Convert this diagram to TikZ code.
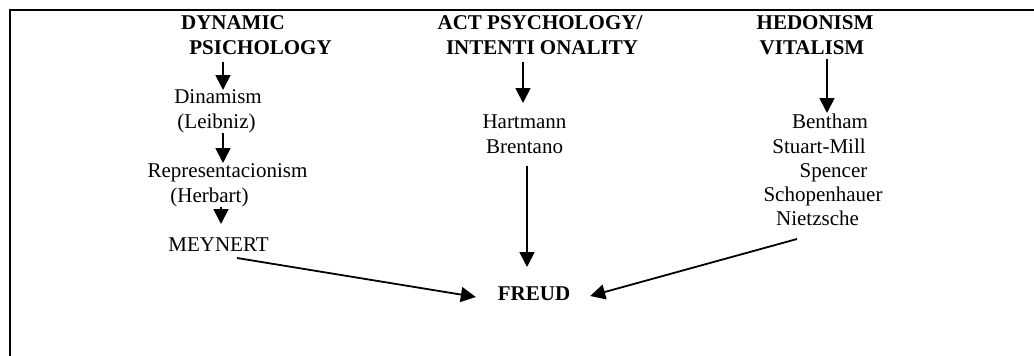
\documentclass[tikz,border=0pt]{standalone}
\usepackage{fontspec}
\setmainfont{Liberation Serif}
\usetikzlibrary{arrows.meta}

\tikzstyle{textdecorate}=[anchor=base,inner sep=0pt,outer sep=0pt,text height=14pt,text depth=4pt,font=\fontsize{21}{24}\selectfont]
\tikzstyle{headdecorate}=[textdecorate,font=\fontsize{21}{24}\selectfont\bfseries]
\tikzstyle{arrowdecorate}=[-{Triangle[length=15pt,width=15pt]},line width=1.8pt]
\tikzstyle{framedecorate}=[line width=2pt]

\begin{document}
\begin{tikzpicture}[x=1pt,y=-1pt]
      \useasboundingbox (0,0) rectangle (1034,356);
      \draw[framedecorate] (10,356) -- (10,10) -- (1034,10);

      %% headings
      \foreach \nodename/\x/\y/\txt in {dynA/233/29/DYNAMIC, dynB/260.5/54/PSICHOLOGY,
        actA/540/30/{ACT PSYCHOLOGY/}, actB/542/54/{INTENTI ONALITY},
        hedA/815/30/HEDONISM, hedB/812/54/VITALISM, freud/534/300/FREUD}
      {
        \node (\nodename) at (\x,\y) [headdecorate] {\txt};
      }
      %% names
      \foreach \nodename/\x/\y/\txt in {dinamism/218/103/Dinamism, leibniz/216.5/128/{(Leibniz)},
        repr/227.5/177/Representacionism, herbart/209.5/202/{(Herbart)}, meynert/218.5/251/MEYNERT,
        hartmann/524.5/128/Hartmann, brentano/524.5/153/Brentano,
        bentham/830/128/Bentham, mill/819/153/Stuart-Mill, spencer/833.5/177/Spencer,
        schop/823/201/Schopenhauer, nietzsche/817.5/225/Nietzsche}
      {
        \node (\nodename) at (\x,\y) [textdecorate] {\txt};
      }
      %% arrows
      \foreach \startnode/\sx/\sy/\endnode/\ex/\ey in {dynB.south/-37.5/4/dinamism.north/5/1,
        leibniz.south/6.5/1/repr.north/-4.5/0, herbart.south/11.5/1/meynert.north/2.5/-13,
        actB.south/-19/4/hartmann.north/-1.5/-11, brentano.south/2.5/9/freud.north/-7/-19,
        hedB.south/15/1/bentham.north/-3/-1, meynert.south/18.5/3/freud.west/-22/2,
        nietzsche.south/-20.5/10/freud.east/20/1}
      {
        \draw[arrowdecorate] ([shift={(\sx,\sy)}]\startnode) -- ([shift={(\ex,\ey)}]\endnode);
      }
\end{tikzpicture}
\end{document}
